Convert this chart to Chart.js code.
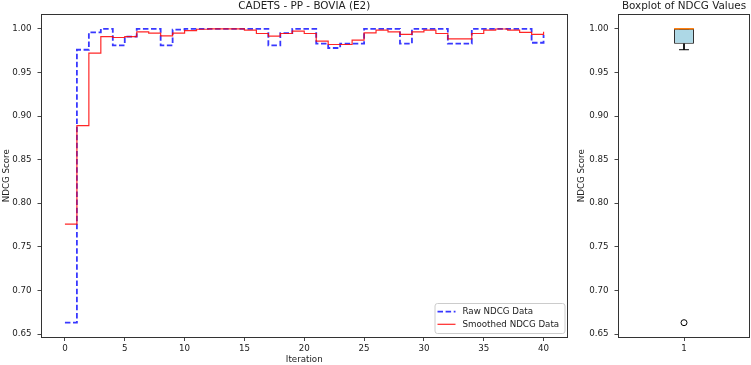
<!DOCTYPE html>
<html>
<head>
<meta charset="utf-8">
<script src="https://cdn.jsdelivr.net/npm/chart.js@4.4.0/dist/chart.umd.min.js"></script>
<style>
  html, body { margin: 0; padding: 0; background: #ffffff; }
  #wrap { position: relative; width: 751px; height: 365px; overflow: hidden; background: #fff; }
  #c1box { position: absolute; left: 0; top: 0; width: 570px; height: 365px; }
  #c2box { position: absolute; left: 570px; top: 0; width: 185px; height: 365px; }
</style>
</head>
<body>
<div id="wrap">
  <div id="c1box"><canvas id="c1"></canvas></div>
  <div id="c2box"><canvas id="c2"></canvas></div>
</div>
<script>
// ---------------- DATA ----------------
const iterations = [0, 1, 2, 3, 4, 5, 6, 7, 8, 9,
  10, 11, 12, 13, 14, 15, 16, 17, 18, 19,
  20, 21, 22, 23, 24, 25, 26, 27, 28, 29,
  30, 31, 32, 33, 34, 35, 36, 37, 38, 39, 40];
const rawNdcg = [0.663, 0.976, 0.996, 1.000, 0.981, 0.991, 1.000, 1.000, 0.981, 0.999,
  1.000, 1.000, 1.000, 1.000, 1.000, 1.000, 1.000, 0.981, 0.995, 1.000,
  1.000, 0.983, 0.978, 0.983, 0.983, 1.000, 1.000, 1.000, 0.983, 1.000,
  1.000, 1.000, 0.983, 0.983, 1.000, 1.000, 1.000, 1.000, 1.000, 0.984,
  0.993];
const smoothedNdcg = [0.776, 0.889, 0.972, 0.991, 0.990, 0.991, 0.9965, 0.995, 0.992, 0.995,
  0.998, 0.9995, 1.000, 1.000, 1.000, 0.9985, 0.9946, 0.9915, 0.9946, 0.9973,
  0.9946, 0.9858, 0.982, 0.982, 0.987, 0.9954, 0.9984, 0.9965, 0.9935, 0.9965,
  0.9984, 0.9946, 0.9885, 0.9885, 0.9946, 0.9984, 0.9998, 0.9984, 0.996, 0.9935,
  0.9965];
const xTicks = [0, 5, 10, 15, 20, 25, 30, 35, 40];
const yTicks = [0.65, 0.70, 0.75, 0.80, 0.85, 0.90, 0.95, 1.00];

// boxplot statistics
const boxPositions = [1];
const boxLabels = ['1'];
const whiskerLow = [0.976];
const quartile1 = [0.983];
const medians = [1.000];
const quartile3 = [1.000];
const whiskerHigh = [1.000];
const outliers = [0.663];
const seriesLabels = ['Raw NDCG Data', 'Smoothed NDCG Data'];

// ---------------- STYLE ----------------
const FONT = "'DejaVu Sans', 'Liberation Sans', sans-serif";
const TXT = '#222222';
const AX = '#333333';
const Y_MIN = 0.646, Y_MAX = 1.017;
const BOX_W = 0.15, CAP_W = 0.075;
Chart.defaults.font.family = FONT;
Chart.defaults.color = TXT;

const framePlugin = {
  id: 'frame',
  afterDraw(chart) {
    const a = chart.chartArea, ctx = chart.ctx;
    ctx.save();
    ctx.strokeStyle = AX;
    ctx.lineWidth = 1;
    ctx.strokeRect(Math.round(a.left) + 0.5, Math.round(a.top) + 0.5,
      Math.round(a.right) - Math.round(a.left) - 1, Math.round(a.bottom) - Math.round(a.top) - 1);
    ctx.restore();
  }
};
const legendPlugin = {
  id: 'mplLegend',
  afterDraw(chart) {
    const a = chart.chartArea, ctx = chart.ctx;
    const w = 130, h = 30;
    const right = a.right - 3, bottom = a.bottom - 4.5;
    const left = right - w, top = bottom - h;
    ctx.save();
    ctx.beginPath();
    if (ctx.roundRect) ctx.roundRect(left + 0.5, top + 0.5, w, h, 2.5); else ctx.rect(left + 0.5, top + 0.5, w, h);
    ctx.fillStyle = 'rgba(255,255,255,0.8)';
    ctx.fill();
    ctx.strokeStyle = '#cccccc';
    ctx.lineWidth = 1;
    ctx.stroke();
    const rows = [top + 8.7, top + 21.3];
    chart.data.datasets.forEach((ds, i) => {
      const y = rows[i];
      ctx.beginPath();
      ctx.setLineDash(ds.borderDash || []);
      ctx.strokeStyle = ds.borderColor;
      ctx.lineWidth = ds.borderWidth;
      ctx.moveTo(left + 3, y);
      ctx.lineTo(left + 21, y);
      ctx.stroke();
      ctx.setLineDash([]);
      ctx.fillStyle = TXT;
      ctx.font = "8.7px " + FONT;
      ctx.textBaseline = 'middle';
      ctx.textAlign = 'left';
      ctx.fillText(ds.label, left + 28, y);
    });
    ctx.restore();
  }
};
function tickGrid() {
  return { display: true, drawOnChartArea: false, drawTicks: true, tickLength: 3.5, color: AX, lineWidth: 0.9 };
}
function yScale(width, titlePad) {
  return {
    type: 'linear', min: Y_MIN, max: Y_MAX,
    afterBuildTicks: (s) => { s.ticks = yTicks.map(v => ({ value: v })); },
    afterFit: (s) => { s.width = width; },
    ticks: { font: { size: 8.7 }, color: TXT, padding: 6, callback: (v) => Number(v).toFixed(2) },
    grid: tickGrid(),
    border: { display: false },
    title: { display: true, text: 'NDCG Score', font: { size: 8.7 }, color: TXT, padding: { top: titlePad, bottom: 0 } }
  };
}

// ---------------- LEFT CHART ----------------
new Chart(document.getElementById('c1'), {
  type: 'line',
  data: {
    datasets: [
      { label: seriesLabels[0], data: iterations.map((x, i) => ({ x: x, y: rawNdcg[i] })),
        borderColor: 'rgba(0,0,255,0.78)', borderWidth: 1.8, borderDash: [5.5, 2.6], stepped: 'before',
        pointRadius: 0, fill: false, order: 2 },
      { label: seriesLabels[1], data: iterations.map((x, i) => ({ x: x, y: smoothedNdcg[i] })),
        borderColor: 'rgba(255,0,0,0.85)', borderWidth: 1.2, stepped: 'before',
        pointRadius: 0, fill: false, order: 1 }
    ]
  },
  options: {
    responsive: true, maintainAspectRatio: false, devicePixelRatio: 1, animation: false,
    layout: { padding: { left: 0, right: 2.5, top: 0, bottom: 0 } },
    plugins: {
      legend: { display: false }, tooltip: { enabled: false },
      title: { display: true, text: 'CADETS - PP - BOVIA (E2)', fullSize: false,
        font: { size: 10.4, weight: 'normal' }, color: TXT, padding: { top: 0, bottom: 1.5 } }
    },
    scales: {
      x: { type: 'linear', min: -2, max: 42,
        afterBuildTicks: (s) => { s.ticks = xTicks.map(v => ({ value: v })); },
        afterFit: (s) => { s.height = 27.5; },
        ticks: { font: { size: 8.7 }, color: TXT, padding: 2.5, maxRotation: 0, autoSkip: false },
        grid: tickGrid(), border: { display: false },
        title: { display: true, text: 'Iteration', font: { size: 8.7 }, color: TXT, padding: { top: 0, bottom: 0 } } },
      y: yScale(41, 1.1)
    }
  },
  plugins: [framePlugin, legendPlugin]
});

// ---------------- RIGHT CHART (boxplot) ----------------
const boxDatasets = [];
boxPositions.forEach((p, i) => {
  boxDatasets.push({ type: 'bar', data: [{ x: p, y: [quartile1[i], quartile3[i]] }],
    backgroundColor: '#add8e6', borderColor: '#000000', borderWidth: 1, borderSkipped: false,
    categoryPercentage: BOX_W, barPercentage: 1, order: 5 });
  boxDatasets.push({ type: 'line', data: [{ x: p, y: quartile1[i] }, { x: p, y: whiskerLow[i] }],
    borderColor: '#000', borderWidth: 1, pointRadius: 0, order: 3 });
  boxDatasets.push({ type: 'line', data: [{ x: p - CAP_W / 2, y: whiskerLow[i] }, { x: p + CAP_W / 2, y: whiskerLow[i] }],
    borderColor: '#000', borderWidth: 1, pointRadius: 0, order: 3 });
  boxDatasets.push({ type: 'line', data: [{ x: p, y: quartile3[i] }, { x: p, y: whiskerHigh[i] }],
    borderColor: '#000', borderWidth: 1, pointRadius: 0, order: 3 });
  boxDatasets.push({ type: 'line', data: [{ x: p - CAP_W / 2, y: whiskerHigh[i] }, { x: p + CAP_W / 2, y: whiskerHigh[i] }],
    borderColor: '#000', borderWidth: 1, pointRadius: 0, order: 3 });
  boxDatasets.push({ type: 'line', data: [{ x: p - BOX_W / 2, y: medians[i] }, { x: p + BOX_W / 2, y: medians[i] }],
    borderColor: '#ff7f0e', borderWidth: 1.4, pointRadius: 0, order: 1 });
  boxDatasets.push({ type: 'scatter', data: outliers.map(v => ({ x: p, y: v })),
    pointStyle: 'circle', pointRadius: 3, pointBorderWidth: 1,
    backgroundColor: 'rgba(0,0,0,0)', borderColor: '#000', pointBackgroundColor: 'rgba(0,0,0,0)', pointBorderColor: '#000', order: 2 });
});
new Chart(document.getElementById('c2'), {
  type: 'bar',
  data: { datasets: boxDatasets },
  options: {
    responsive: true, maintainAspectRatio: false, devicePixelRatio: 1, animation: false,
    layout: { padding: { left: 0, right: 1, top: 0, bottom: 0 } },
    plugins: {
      legend: { display: false }, tooltip: { enabled: false },
      title: { display: true, text: 'Boxplot of NDCG Values', fullSize: false,
        font: { size: 10.4, weight: 'normal' }, color: TXT, padding: { top: 0, bottom: 1.5 } }
    },
    scales: {
      x: { type: 'linear', min: 0.5, max: 1.5, offset: false,
        afterBuildTicks: (s) => { s.ticks = boxPositions.map(v => ({ value: v })); },
        afterFit: (s) => { s.height = 27.5; },
        ticks: { font: { size: 8.7 }, color: TXT, padding: 2.5, maxRotation: 0, autoSkip: false,
          callback: (v) => boxLabels[boxPositions.indexOf(v)] },
        grid: Object.assign(tickGrid(), { offset: false }), border: { display: false } },
      y: yScale(48, 6.5)
    }
  },
  plugins: [framePlugin]
});
</script>
</body>
</html>
